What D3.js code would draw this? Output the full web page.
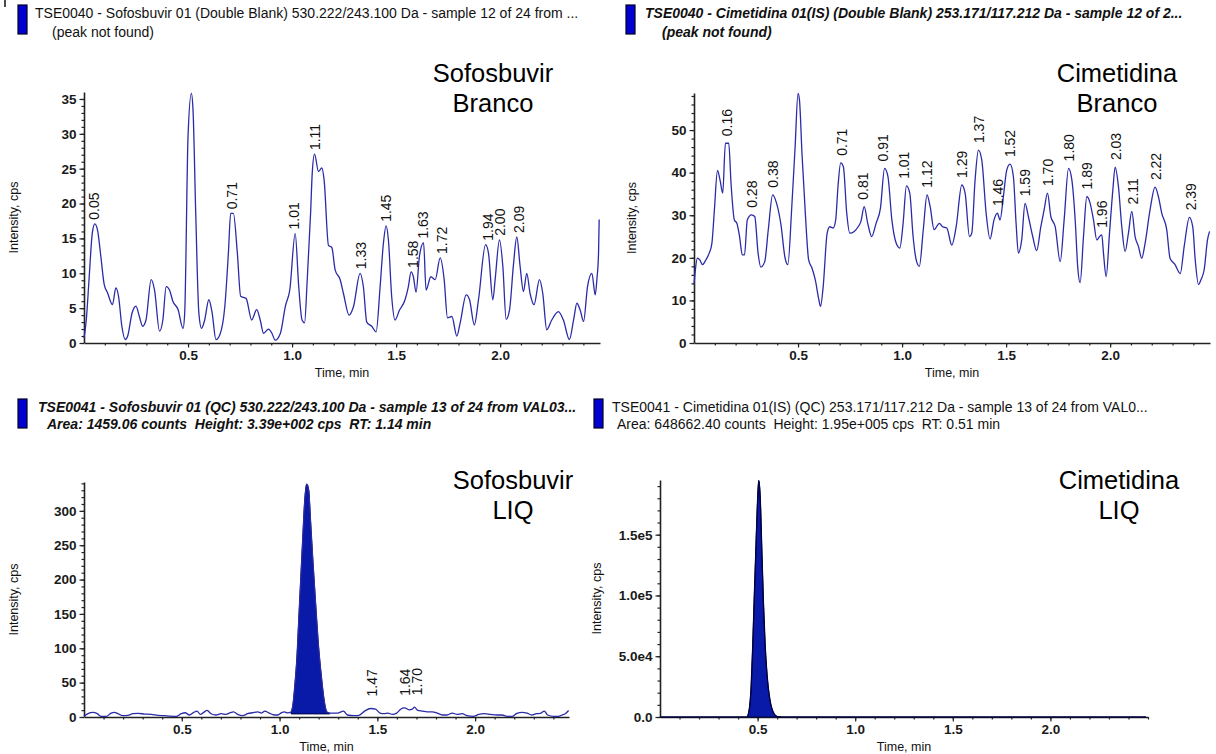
<!DOCTYPE html>
<html><head><meta charset="utf-8">
<script src="https://cdn.jsdelivr.net/npm/d3@7"></script>
<style>
body{margin:0;background:#fff}
svg{display:block}
text{font-family:"Liberation Sans",Arial,sans-serif}
</style></head><body>
<svg id="c" width="1216" height="754"></svg>
<script>
// ---------- DATA ----------
const xTicks = [0.5, 1.0, 1.5, 2.0];
const xTickLabels = ["0.5", "1.0", "1.5", "2.0"];

const sofBrancoYTicks = [0, 5, 10, 15, 20, 25, 30, 35];
const cimBrancoYTicks = [0, 10, 20, 30, 40, 50];
const sofLiqYTicks = [0, 50, 100, 150, 200, 250, 300];
const cimLiqYTicks = [0, 50000, 100000, 150000];
const cimLiqYTickLabels = ["0.0", "5.0e4", "1.0e5", "1.5e5"];

// Sofosbuvir, Double Blank: [time (min), intensity (cps)]
const sofBranco = [
[0,0.7],[0.011,3.3],[0.024,9],[0.04,15.8],[0.052,17.1],[0.065,16.2],[0.081,12.4],[0.097,8.4],[0.113,7.2],[0.137,5.5],[0.153,7.9],[0.166,6.7],[0.182,2.4],[0.198,0.5],[0.21,1.0],[0.231,4.3],[0.25,5.3],[0.266,3.8],[0.282,2.4],[0.298,3.3],[0.323,9.1],[0.339,7.6],[0.363,1.7],[0.379,3.3],[0.395,8.1],[0.411,7.6],[0.427,6.0],[0.452,4.8],[0.476,2.1],[0.484,4.3],[0.5,29.6],[0.516,35.8],[0.524,33.4],[0.537,18.6],[0.552,4.3],[0.565,2.1],[0.58,3.3],[0.6,6.2],[0.616,4.3],[0.634,0.5],[0.653,1.2],[0.677,5.3],[0.694,12.9],[0.705,18.6],[0.718,18.6],[0.737,12.9],[0.753,6.7],[0.779,6.4],[0.806,3.3],[0.83,4.8],[0.847,3.3],[0.863,1.4],[0.887,2.0],[0.903,1.4],[0.919,0.4],[0.944,1.4],[0.968,5.3],[0.989,7.6],[1.015,15.7],[1.032,8.1],[1.048,3.3],[1.06,2.9],[1.073,9.1],[1.089,18.6],[1.097,24.4],[1.108,27.1],[1.127,24.6],[1.143,25.1],[1.154,23.4],[1.175,14.0],[1.191,13.7],[1.207,10.5],[1.231,9.1],[1.247,7.1],[1.274,4.0],[1.295,5.2],[1.327,10.0],[1.343,8.0],[1.359,3.0],[1.383,2.4],[1.404,1.6],[1.423,8.0],[1.439,14.3],[1.452,16.8],[1.463,14.8],[1.479,6.6],[1.495,3.3],[1.516,4.7],[1.543,6.2],[1.559,8.1],[1.572,10.2],[1.583,9.5],[1.596,7.3],[1.612,12.4],[1.632,14.4],[1.644,7.6],[1.667,9.5],[1.688,9.1],[1.712,12.2],[1.731,9.1],[1.747,3.6],[1.768,3.8],[1.792,1.0],[1.808,2.9],[1.837,6.9],[1.853,6.2],[1.876,2.6],[1.896,6.2],[1.93,14.1],[1.944,12.9],[1.965,6.2],[1.976,9.1],[1.997,14.8],[2.013,11.0],[2.029,3.4],[2.045,4.7],[2.064,11.2],[2.08,15.2],[2.096,11.0],[2.112,7.4],[2.128,10.0],[2.144,7.1],[2.163,5.5],[2.189,9.1],[2.205,7.1],[2.224,1.9],[2.248,3.3],[2.28,4.5],[2.304,3.3],[2.333,0.5],[2.353,3.3],[2.369,5.7],[2.385,4.7],[2.401,3.1],[2.42,8.1],[2.441,10.0],[2.457,6.9],[2.465,9.1],[2.473,12.9],[2.476,17.7]
];
const sofBrancoPeaks = ["0.05","0.71","1.01","1.11","1.33","1.45","1.58","1.63","1.72","1.94","2.00","2.09"];

// Cimetidina (IS), Double Blank
const cimBranco = [
[0,13.7],[0.005,16.4],[0.016,19.9],[0.028,19.5],[0.041,18.4],[0.057,19.5],[0.073,21.1],[0.086,23.4],[0.097,30.5],[0.113,40.5],[0.125,38.3],[0.138,35.2],[0.151,46.9],[0.167,46.9],[0.178,37.5],[0.194,28.9],[0.206,28.1],[0.219,25.0],[0.232,20.7],[0.243,20.7],[0.256,28.9],[0.276,30.1],[0.292,29.7],[0.308,21.1],[0.321,17.8],[0.34,19.1],[0.357,26.6],[0.378,34.8],[0.397,32.8],[0.417,28.1],[0.438,19.9],[0.451,18.4],[0.47,32.0],[0.486,46.1],[0.5,58.6],[0.507,57.0],[0.519,44.5],[0.535,30.5],[0.551,19.5],[0.567,17.6],[0.583,14.8],[0.6,10.2],[0.608,8.6],[0.621,13.3],[0.64,25.8],[0.653,27.3],[0.669,27.0],[0.681,28.9],[0.692,36.7],[0.705,42.3],[0.718,41.4],[0.734,30.5],[0.749,25.8],[0.77,26.2],[0.789,27.3],[0.802,28.5],[0.818,32.0],[0.835,28.1],[0.854,25.0],[0.875,28.1],[0.896,31.6],[0.916,41.0],[0.932,39.1],[0.951,28.9],[0.972,23.4],[0.989,22.3],[1.005,28.1],[1.021,36.9],[1.037,35.2],[1.053,25.0],[1.07,19.1],[1.083,18.0],[1.102,26.6],[1.12,34.8],[1.135,32.0],[1.154,26.6],[1.179,28.1],[1.195,27.3],[1.215,27.0],[1.239,23.0],[1.26,27.3],[1.287,37.1],[1.303,35.2],[1.324,25.0],[1.335,25.8],[1.351,38.3],[1.367,45.3],[1.383,43.0],[1.404,30.5],[1.423,24.4],[1.442,28.9],[1.458,30.5],[1.471,28.9],[1.487,34.4],[1.503,40.6],[1.519,42.0],[1.535,39.1],[1.548,28.1],[1.559,21.1],[1.575,24.2],[1.591,32.8],[1.607,29.7],[1.628,25.0],[1.647,21.7],[1.667,27.3],[1.683,31.3],[1.699,35.2],[1.715,29.7],[1.736,27.3],[1.76,19.1],[1.779,28.9],[1.8,41.0],[1.816,38.3],[1.833,28.1],[1.844,18.0],[1.856,14.2],[1.872,25.0],[1.888,34.4],[1.904,32.8],[1.92,28.9],[1.936,24.2],[1.949,25.0],[1.96,25.4],[1.968,21.1],[1.981,15.6],[1.997,25.8],[2.013,35.9],[2.024,41.3],[2.04,36.7],[2.056,27.3],[2.072,21.5],[2.088,25.8],[2.104,30.9],[2.12,25.0],[2.136,22.7],[2.152,19.9],[2.168,23.4],[2.192,31.3],[2.216,36.6],[2.232,34.4],[2.248,30.5],[2.272,26.6],[2.288,19.9],[2.312,18.4],[2.337,16.3],[2.356,22.7],[2.381,29.5],[2.397,27.3],[2.409,19.5],[2.425,13.7],[2.436,14.8],[2.452,17.2],[2.468,24.2],[2.478,26.2]
];
const cimBrancoPeaks = ["0.16","0.28","0.38","0.71","0.81","0.91","1.01","1.12","1.29","1.37","1.46","1.52","1.59","1.70","1.80","1.89","1.96","2.03","2.11","2.22","2.39"];

// Sofosbuvir, QC (LIQ)
const sofLiq = [
[0,1],[0.02,4.8],[0.046,6.7],[0.068,4.8],[0.088,1],[0.114,1],[0.139,5.7],[0.156,6.7],[0.173,4.8],[0.199,1.9],[0.224,2.4],[0.25,4.8],[0.276,5.2],[0.31,4.3],[0.344,3.8],[0.378,2.4],[0.412,1.9],[0.437,1.4],[0.471,1],[0.497,4.8],[0.517,6.2],[0.539,2.9],[0.561,6.7],[0.578,8.6],[0.595,3.8],[0.612,6.7],[0.629,9.5],[0.65,4.8],[0.675,2.9],[0.701,4.8],[0.726,3.8],[0.743,5.7],[0.765,7.6],[0.786,3.8],[0.811,1.9],[0.837,4.8],[0.862,6.2],[0.888,7.6],[0.908,5.7],[0.925,8.6],[0.947,5.7],[0.973,2.9],[0.99,2.9],[1.007,5.7],[1.024,7.6],[1.04,6.0],[1.059,7.3],[1.069,19],[1.079,48.6],[1.089,87],[1.099,146],[1.109,204],[1.119,262],[1.129,316],[1.139,339],[1.149,330],[1.158,287],[1.168,238],[1.182,175],[1.198,107],[1.214,58],[1.228,24],[1.242,7.3],[1.257,5.5],[1.27,5.7],[1.296,5.7],[1.327,8.6],[1.347,2.9],[1.381,1.9],[1.406,2.4],[1.435,8.6],[1.466,12.4],[1.491,11.4],[1.514,5.7],[1.534,4.8],[1.554,5.7],[1.577,3.8],[1.599,5.7],[1.619,11.4],[1.639,13.3],[1.662,10.5],[1.679,11.4],[1.69,14.3],[1.707,9.5],[1.73,8.6],[1.755,7.6],[1.781,7.6],[1.806,5.7],[1.832,2.9],[1.857,2.9],[1.883,5.7],[1.908,3.8],[1.934,4.8],[1.959,1.9],[1.99,1],[2.019,3.8],[2.048,4.8],[2.078,3.8],[2.112,2.9],[2.138,2.9],[2.163,1],[2.189,1],[2.211,4.8],[2.24,6.7],[2.265,5.7],[2.29,2.9],[2.313,4.8],[2.333,5.2],[2.354,8.6],[2.371,2.9],[2.401,1],[2.427,1],[2.444,2.9],[2.461,4.8],[2.478,9.5]
];
const sofLiqPeaks = ["1.47","1.64","1.70"];
const sofLiqWindow = [1.059, 1.257];   // integrated peak (min)
const sofLiqBaseline = 4.5;             // integration baseline (cps)

// Cimetidina (IS), QC (LIQ)
const cimLiq = [
[0,0],[0.2,0],[0.4,0],[0.445,0],[0.457,6000],[0.467,25200],[0.475,58100],[0.482,93700],[0.49,132000],[0.498,170400],[0.506,194500],[0.514,178600],[0.522,134800],[0.53,93700],[0.539,58100],[0.549,33400],[0.563,14200],[0.578,4700],[0.598,550],[0.618,0],[1.0,0],[1.5,0],[2.0,0],[2.49,0]
];
const cimLiqWindow = [0.445, 0.618];
const cimLiqBaseline = 0;

// ---------- DRAW ----------
const svg = d3.select("#c");
const FONT = '"Liberation Sans", Arial, sans-serif';

function drawPanel(p) {
  const x = d3.scaleLinear().domain(p.xDomain).range(p.xRange);
  const y = d3.scaleLinear().domain(p.yDomain).range(p.yRange);
  const g = svg.append("g");

  // minor ticks
  const xMinor = d3.range(1, Math.floor(p.xDomain[1] * 10) + 1).map(i => i / 10);
  g.append("g").attr("transform", `translate(0,${p.yRange[0]})`)
    .call(d3.axisBottom(x).tickValues(xMinor).tickSize(2.5).tickFormat("").tickSizeOuter(0))
    .call(s => s.select(".domain").remove());
  const yMinor = d3.range(0, p.yDomain[1], p.yMinorStep);
  g.append("g").attr("transform", `translate(${p.xRange[0]},0)`)
    .call(d3.axisLeft(y).tickValues(yMinor).tickSize(2.5).tickFormat("").tickSizeOuter(0))
    .call(s => s.select(".domain").remove());

  // major axes
  g.append("g").attr("class", "ax").attr("transform", `translate(0,${p.yRange[0]})`)
    .call(d3.axisBottom(x).tickValues(xTicks).tickFormat((d, i) => xTickLabels[i]).tickSize(4.5).tickSizeOuter(0).tickPadding(3));
  g.append("g").attr("class", "ax").attr("transform", `translate(${p.xRange[0]},0)`)
    .call(d3.axisLeft(y).tickValues(p.yTicks).tickFormat((d, i) => p.yTickLabels ? p.yTickLabels[i] : String(d)).tickSize(4.5).tickSizeOuter(0).tickPadding(3));
  g.selectAll(".tick line").attr("stroke", "#222").attr("stroke-width", 1.2);
  g.selectAll(".domain").attr("stroke", "#222").attr("stroke-width", 1.6);
  g.selectAll(".ax text").attr("font-family", FONT).attr("font-size", 13.5).attr("font-weight", "bold").attr("fill", "#1a1a1a");

  // filled integrated peak
  if (p.window) {
    const seg = p.data.filter(d => d[0] >= p.window[0] && d[0] <= p.window[1]);
    g.append("path").datum(seg)
      .attr("d", d3.area().x(d => x(d[0])).y0(y(p.baseline)).y1(d => y(Math.max(d[1], p.baseline))).curve(d3.curveMonotoneX))
      .attr("fill", "#0a1aa8").attr("stroke", "#000040").attr("stroke-width", 1);
  }

  // trace
  g.append("path").datum(p.data)
    .attr("d", d3.line().x(d => x(d[0])).y(d => y(d[1])).curve(d3.curveMonotoneX))
    .attr("fill", "none").attr("stroke", p.lineColor || "#2b2ba8").attr("stroke-width", 1.3);

  // peak labels
  (p.peaks || []).forEach(lbl => {
    const t = +lbl;
    const near = p.data.filter(d => Math.abs(d[0] - t) <= 0.02);
    const vmax = d3.max(near, d => d[1]);
    g.append("text")
      .attr("transform", `translate(${x(t)},${y(vmax) - p.gap}) rotate(-90)`)
      .attr("dy", "0.36em").attr("font-family", FONT).attr("font-size", 14).attr("fill", "#111")
      .text(lbl);
  });

  // axis titles
  g.append("text").attr("x", (p.xRange[0] + p.xRange[1]) / 2).attr("y", p.yRange[0] + 34)
    .attr("text-anchor", "middle").attr("font-family", FONT).attr("font-size", 12.5).attr("fill", "#111")
    .text("Time, min");
  g.append("text")
    .attr("transform", `translate(${p.yTitleX},${(p.yRange[0] + p.yRange[1]) / 2}) rotate(-90)`)
    .attr("text-anchor", "middle").attr("dy", "0.35em").attr("font-family", FONT).attr("font-size", 12.5).attr("fill", "#111")
    .text("Intensity, cps");
}

drawPanel({ data: sofBranco, peaks: sofBrancoPeaks, xDomain: [0, 2.48], xRange: [84, 600],
  yDomain: [0, 36], yRange: [343, 92], yTicks: sofBrancoYTicks, yMinorStep: 1, gap: 4, yTitleX: 14 });
drawPanel({ data: cimBranco, peaks: cimBrancoPeaks, xDomain: [0, 2.48], xRange: [694, 1210],
  yDomain: [0, 58.7], yRange: [343, 93], yTicks: cimBrancoYTicks, yMinorStep: 2, gap: 7, yTitleX: 632 });
drawPanel({ data: sofLiq, peaks: sofLiqPeaks, window: sofLiqWindow, baseline: sofLiqBaseline,
  xDomain: [0, 2.48], xRange: [84, 569], yDomain: [0, 342], yRange: [717, 482], yTicks: sofLiqYTicks,
  yMinorStep: 10, gap: 12, yTitleX: 14 });
drawPanel({ data: cimLiq, window: cimLiqWindow, baseline: cimLiqBaseline,
  xDomain: [0, 2.5], xRange: [660, 1148], yDomain: [0, 195000], yRange: [717, 480], yTicks: cimLiqYTicks,
  yTickLabels: cimLiqYTickLabels, yMinorStep: 10000, gap: 8, yTitleX: 597, lineColor: "#000040" });

// headers
function header(cfg) {
  svg.append("rect").attr("x", cfg.bx).attr("y", cfg.by).attr("width", 9).attr("height", 29)
    .attr("fill", "#0000d0").attr("stroke", "#000020").attr("stroke-width", 1.2);
  const style = t => t.attr("font-family", FONT).attr("font-size", 14).attr("fill", "#111")
    .attr("font-style", cfg.italic ? "italic" : "normal").attr("font-weight", cfg.bold ? "bold" : "normal")
    .attr("xml:space", "preserve").style("white-space", "pre");
  svg.append("text").attr("x", cfg.x1).attr("y", cfg.y1).text(cfg.line1).call(style);
  svg.append("text").attr("x", cfg.x2).attr("y", cfg.y2).text(cfg.line2).call(style);
}
header({ bx: 18, by: 5, x1: 35, y1: 18, x2: 52, y2: 37, italic: false, bold: false,
  line1: "TSE0040 - Sofosbuvir 01 (Double Blank) 530.222/243.100 Da - sample 12 of 24 from ...",
  line2: "(peak not found)" });
header({ bx: 626, by: 5, x1: 645, y1: 18, x2: 662, y2: 37, italic: true, bold: true,
  line1: "TSE0040 - Cimetidina 01(IS) (Double Blank) 253.171/117.212 Da - sample 12 of 2...",
  line2: "(peak not found)" });
header({ bx: 18, by: 399, x1: 38, y1: 412, x2: 47, y2: 429, italic: true, bold: true,
  line1: "TSE0041 - Sofosbuvir 01 (QC) 530.222/243.100 Da - sample 13 of 24 from VAL03...",
  line2: "Area: 1459.06 counts  Height: 3.39e+002 cps  RT: 1.14 min" });
header({ bx: 594, by: 399, x1: 612, y1: 412, x2: 617, y2: 429, italic: false, bold: false,
  line1: "TSE0041 - Cimetidina 01(IS) (QC) 253.171/117.212 Da - sample 13 of 24 from VAL0...",
  line2: "Area: 648662.40 counts  Height: 1.95e+005 cps  RT: 0.51 min" });
svg.append("line").attr("x1", 5).attr("x2", 5).attr("y1", 0).attr("y2", 7).attr("stroke", "#111").attr("stroke-width", 1.5);

// annotations
function note(cx, y, l1, l2) {
  svg.append("text").attr("x", cx).attr("y", y).attr("text-anchor", "middle")
    .attr("font-family", FONT).attr("font-size", 25.5).attr("fill", "#000").text(l1);
  svg.append("text").attr("x", cx).attr("y", y + 30).attr("text-anchor", "middle")
    .attr("font-family", FONT).attr("font-size", 25.5).attr("fill", "#000").text(l2);
}
note(493, 82, "Sofosbuvir", "Branco");
note(1117, 82, "Cimetidina", "Branco");
note(513, 489, "Sofosbuvir", "LIQ");
note(1119, 489, "Cimetidina", "LIQ");
</script>
</body></html>
